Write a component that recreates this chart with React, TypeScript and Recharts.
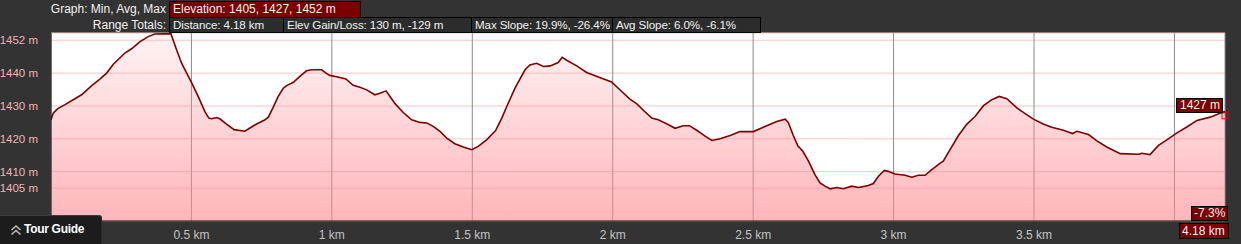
import React from "react";
import { AreaChart, Area, XAxis, YAxis, CartesianGrid, ReferenceDot } from "recharts";

const distanceKm = [
  0, 0.008, 0.024, 0.05, 0.085, 0.109, 0.145, 0.174, 0.198, 0.222, 0.263, 0.287, 0.317, 0.346, 0.37,
  0.427, 0.447, 0.465, 0.483, 0.501, 0.524, 0.548, 0.562, 0.572, 0.59, 0.601, 0.625, 0.652, 0.69,
  0.714, 0.732, 0.762, 0.774, 0.791, 0.809, 0.827, 0.839, 0.863, 0.886, 0.91, 0.928, 0.964, 0.979,
  0.993, 1.017, 1.05, 1.076, 1.1, 1.124, 1.153, 1.171, 1.193, 1.207, 1.225, 1.254, 1.284, 1.314,
  1.338, 1.361, 1.385, 1.409, 1.438, 1.468, 1.498, 1.521, 1.551, 1.583, 1.605, 1.623, 1.652, 1.688,
  1.705, 1.729, 1.753, 1.777, 1.806, 1.82, 1.836, 1.872, 1.907, 1.949, 1.996, 2.032, 2.062, 2.085,
  2.109, 2.139, 2.162, 2.192, 2.222, 2.251, 2.273, 2.299, 2.329, 2.353, 2.382, 2.418, 2.453, 2.501,
  2.536, 2.584, 2.614, 2.625, 2.643, 2.659, 2.677, 2.697, 2.72, 2.738, 2.756, 2.774, 2.798, 2.821,
  2.851, 2.875, 2.91, 2.928, 2.946, 2.967, 2.981, 3.005, 3.041, 3.065, 3.088, 3.112, 3.136, 3.166,
  3.177, 3.201, 3.231, 3.261, 3.29, 3.32, 3.35, 3.376, 3.403, 3.439, 3.466, 3.498, 3.533, 3.563,
  3.605, 3.637, 3.653, 3.694, 3.724, 3.759, 3.807, 3.872, 3.884, 3.913, 3.943, 3.973, 4.009, 4.044,
  4.08, 4.127, 4.169, 4.18,
];

const elevationM = [
  1425.8, 1427.8, 1429.2, 1430.4, 1432.2, 1433.4, 1436.2, 1438.2, 1440, 1442.7, 1446.1, 1447.4, 1449.6, 1451.1, 1451.9,
  1452.0, 1447.1, 1443, 1440, 1437, 1432.9, 1428.3, 1426.3, 1426.1, 1426.5, 1426.1, 1424.5, 1422.8, 1422.3,
  1423.6, 1424.5, 1425.8, 1426.6, 1429.6, 1432.9, 1435.4, 1436.2, 1437.2, 1439, 1440.7, 1441, 1441, 1440,
  1439.3, 1438.9, 1438.2, 1436.3, 1435.7, 1434.9, 1433.4, 1433.9, 1434.6, 1432.9, 1430.7, 1428, 1425.8, 1425,
  1424.8, 1423.8, 1422.3, 1420.2, 1418.5, 1417.5, 1416.7, 1417.7, 1419.7, 1422.5, 1426.3, 1429.9, 1435.4, 1441,
  1442.5, 1443, 1442, 1442.2, 1443.2, 1444.8, 1443.9, 1442.2, 1440.2, 1438.8, 1437.3, 1434.4, 1432.0, 1430.7,
  1428.7, 1426.3, 1425.8, 1424.6, 1423.2, 1424, 1424, 1422.6, 1420.8, 1419.5, 1420, 1421, 1422.2, 1422.2,
  1423.5, 1425.3, 1426, 1425, 1421, 1417.9, 1416.2, 1413.2, 1409.1, 1406.6, 1405.6, 1404.8, 1405.2, 1404.8,
  1405.6, 1405.2, 1405.8, 1406.4, 1408.6, 1410.4, 1410.1, 1409.3, 1408.9, 1408.3, 1408.9, 1408.9, 1410.6, 1412.6,
  1413.2, 1416.7, 1421, 1424.5, 1426.8, 1430.1, 1431.9, 1432.9, 1432.2, 1429.4, 1427.8, 1426, 1424.5, 1423.5,
  1422.6, 1421.6, 1422.3, 1421.3, 1419.4, 1417.5, 1415.5, 1415.3, 1415.6, 1415.2, 1418, 1419.7, 1421.8, 1423.6,
  1425.6, 1426.6, 1428, 1428.3,
];

const xTicks = [0.5, 1, 1.5, 2, 2.5, 3, 3.5, 4];
const xTickLabels = ["0.5 km", "1 km", "1.5 km", "2 km", "2.5 km", "3 km", "3.5 km", ""];
const yTicks = [1405, 1410, 1420, 1430, 1440, 1450];
const yTickLabels = ["1405 m", "1410 m", "1420 m", "1430 m", "1440 m", "1452 m"];

const graphLabel = "Graph: Min, Avg, Max";
const elevationSummary = "Elevation: 1405, 1427, 1452 m";
const rangeLabel = "Range Totals:";
const rangeBoxes = [
  { text: "Distance: 4.18 km", w: 114 },
  { text: "Elev Gain/Loss: 130 m, -129 m", w: 188 },
  { text: "Max Slope: 19.9%, -26.4%", w: 141 },
  { text: "Avg Slope: 6.0%, -6.1%", w: 148 },
];
const endElevationLabel = "1427 m";
const endSlopeLabel = "-7.3%";
const endDistanceLabel = "4.18 km";

const data = distanceKm.map((d, i) => ({ d, e: elevationM[i] }));

const FONT = "'Liberation Sans', Arial, sans-serif";

const boxBase: React.CSSProperties = {
  position: "absolute",
  boxSizing: "border-box",
  border: "1px solid #000",
  color: "#f2f2f2",
  fontFamily: FONT,
  fontSize: 12,
  lineHeight: "14px",
  paddingLeft: 3,
  whiteSpace: "nowrap",
  overflow: "hidden",
};

export default function App() {
  let x = 169;
  const boxes = rangeBoxes.map((b, i) => {
    const el = (
      <div key={i} style={{ ...boxBase, left: x, top: 17, width: b.w + 1, height: 16, background: "#2c2c2c", fontSize: 11.6, letterSpacing: -0.1 }}>
        {b.text}
      </div>
    );
    x += b.w;
    return el;
  });

  return (
    <div style={{ position: "fixed", left: 0, top: 0, width: 1241, height: 244, background: "#333333", overflow: "hidden" }}>
      <style>{"body{margin:0;background:#333}"}</style>
      <div style={{ position: "absolute", left: 0, top: 0 }}>
        <AreaChart width={1241} height={244} data={data} margin={{ top: 33, right: 16, left: 0, bottom: 0 }}>
          <defs>
            <linearGradient id="elevFill" x1="0" y1="0" x2="0" y2="1">
              <stop offset="0%" stopColor="#ff8890" stopOpacity={0.1} />
              <stop offset="100%" stopColor="#ff8890" stopOpacity={0.62} />
            </linearGradient>
          </defs>
          <CartesianGrid horizontal={true} vertical={false} stroke="#fbc4c4" strokeWidth={1} fill="#ffffff" fillOpacity={1} />
          <CartesianGrid horizontal={false} vertical={true} stroke="#8a8a8a" strokeWidth={1} />
          <XAxis
            dataKey="d"
            type="number"
            domain={[0, 4.18]}
            ticks={xTicks}
            tickFormatter={(v: number) => xTickLabels[xTicks.indexOf(v)] ?? ""}
            height={23}
            tickLine={false}
            axisLine={{ stroke: "#111", strokeWidth: 1 }}
            tick={{ fill: "#c4c4c4", fontSize: 12, fontFamily: FONT }}
            tickMargin={3}
            allowDataOverflow
          />
          <YAxis
            type="number"
            domain={[1395, 1452.2]}
            ticks={yTicks}
            tickFormatter={(v: number) => yTickLabels[yTicks.indexOf(v)] ?? ""}
            width={51}
            tickLine={false}
            axisLine={{ stroke: "#111", strokeWidth: 1 }}
            tick={{ fill: "#f3b4b4", fontSize: 11.5, fontFamily: FONT }}
            tickMargin={7}
            interval={0}
            allowDataOverflow
          />
          <Area
            type="linear"
            dataKey="e"
            stroke="#7d0000"
            strokeWidth={1.6}
            fill="url(#elevFill)"
            fillOpacity={1}
            isAnimationActive={false}
            dot={false}
            activeDot={false}
          />
          <ReferenceDot
            x={distanceKm[distanceKm.length - 1]}
            y={1427}
            ifOverflow="visible"
            shape={(p: any) => (
              <rect x={p.cx - 3} y={p.cy - 3} width={6} height={6} fill="none" stroke="#ee0000" strokeWidth={1} />
            )}
          />
        </AreaChart>
      </div>

      <div style={{ position: "absolute", left: 0, width: 166, top: 2, textAlign: "right", color: "#f2f2f2", fontFamily: FONT, fontSize: 12, lineHeight: "14px", whiteSpace: "nowrap" }}>
        {graphLabel}
      </div>
      <div style={{ ...boxBase, left: 169, top: 1, width: 192, height: 17, background: "#7b0000", lineHeight: "15px" }}>
        {elevationSummary}
      </div>
      <div style={{ position: "absolute", left: 0, width: 166, top: 18, textAlign: "right", color: "#f2f2f2", fontFamily: FONT, fontSize: 12, lineHeight: "14px", whiteSpace: "nowrap" }}>
        {rangeLabel}
      </div>
      {boxes}

      <div style={{ ...boxBase, left: 1176, top: 98, width: 47, height: 15, background: "#7b0000", paddingLeft: 3, lineHeight: "13px" }}>
        {endElevationLabel}
      </div>
      <div style={{ ...boxBase, left: 1191, top: 206, width: 37, height: 15, background: "#7b0000", paddingLeft: 2, lineHeight: "13px" }}>
        {endSlopeLabel}
      </div>
      <div style={{ ...boxBase, left: 1179, top: 223, width: 50, height: 16, background: "#7b0000", paddingLeft: 2, lineHeight: "14px" }}>
        {endDistanceLabel}
      </div>

      <div style={{ position: "absolute", left: 0, top: 215, width: 102, height: 29, background: "#1c1c1c", borderTop: "1px solid #3a3a3a", borderRight: "1px solid #2a2a2a", borderTopRightRadius: 3, boxSizing: "border-box" }}>
        <svg width={12} height={12} style={{ position: "absolute", left: 10, top: 8 }}>
          <path d="M1.5 6 L6 2 L10.5 6" fill="none" stroke="#bbb" strokeWidth={1.6} />
          <path d="M1.5 10.5 L6 6.5 L10.5 10.5" fill="none" stroke="#bbb" strokeWidth={1.6} />
        </svg>
        <span style={{ position: "absolute", left: 24, top: 6, color: "#fff", fontFamily: FONT, fontWeight: "bold", fontSize: 12, letterSpacing: -0.3, whiteSpace: "nowrap" }}>
          Tour Guide
        </span>
      </div>
    </div>
  );
}
